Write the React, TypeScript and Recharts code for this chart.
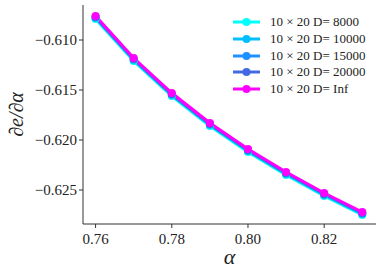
import { LineChart, Line, XAxis, YAxis } from 'recharts';

const ALPHA = [0.76, 0.77, 0.78, 0.79, 0.8, 0.81, 0.82, 0.83];
const D_8000 = [-0.6079, -0.6121, -0.6156, -0.6186, -0.6212, -0.6235, -0.6256, -0.6275];
const D_10000 = [-0.6078, -0.6120, -0.6155, -0.6185, -0.6211, -0.6234, -0.6255, -0.6274];
const D_15000 = [-0.6077, -0.6119, -0.6154, -0.6184, -0.6210, -0.6233, -0.6254, -0.6273];
const D_20000 = [-0.6077, -0.6119, -0.6154, -0.6184, -0.6210, -0.6233, -0.6254, -0.6273];
const D_INF = [-0.6076, -0.6118, -0.6153, -0.6183, -0.6209, -0.6232, -0.6253, -0.6272];
const X_TICKS = [0.76, 0.78, 0.8, 0.82];
const Y_TICKS = [-0.625, -0.62, -0.615, -0.61];

const SERIES = [
  { key: 'd8000', name: '10 × 20 D= 8000', color: '#00ffff', values: D_8000 },
  { key: 'd10000', name: '10 × 20 D= 10000', color: '#00bfff', values: D_10000 },
  { key: 'd15000', name: '10 × 20 D= 15000', color: '#1e90ff', values: D_15000 },
  { key: 'd20000', name: '10 × 20 D= 20000', color: '#4169e1', values: D_20000 },
  { key: 'dinf', name: '10 × 20 D= Inf', color: '#ff00ff', values: D_INF },
];

const data = ALPHA.map((a, i) => {
  const row: Record<string, number> = { alpha: a };
  SERIES.forEach((s) => {
    row[s.key] = s.values[i];
  });
  return row;
});

const FONT = 'Liberation Serif, DejaVu Serif, serif';
const AXIS = '#333';

const fmtMinus = (v: number, d: number) => {
  const s = Math.abs(v).toFixed(d);
  return v < 0 ? `\u2212${s}` : s;
};

const XTick = (props: any) => {
  const { x, y, payload } = props;
  return (
    <text x={x} y={y + 14} textAnchor="middle" fontSize={15} fill="#222" style={{ fontFamily: FONT }}>
      {Number(payload.value).toFixed(2)}
    </text>
  );
};

const YTick = (props: any) => {
  const { x, y, payload } = props;
  return (
    <text x={x} y={y} textAnchor="end" dominantBaseline="central" fontSize={15} fill="#222" style={{ fontFamily: FONT }}>
      {fmtMinus(payload.value, 3)}
    </text>
  );
};

const App = () => {
  return (
    <div style={{ position: 'absolute', left: 0, top: 0, background: '#fff', fontFamily: FONT }}>
      <div style={{ position: 'relative', width: 382, height: 272 }}>
        <LineChart width={382} height={272} data={data} margin={{ top: 5, right: 6, bottom: 0, left: 0 }}>
          <XAxis
            dataKey="alpha"
            type="number"
            domain={[0.7567, 0.8336]}
            ticks={X_TICKS}
            stroke={AXIS}
            tick={<XTick />}
            tickSize={4}
            height={48}
            allowDataOverflow
            label={(props: any) => {
              const vb = props.viewBox;
              return (
                <text x={vb.x + vb.width / 2} y={264} textAnchor="middle" fontSize={22} fontStyle="italic" style={{ fontFamily: FONT }} fill="#222">
                  α
                </text>
              );
            }}
          />
          <XAxis xAxisId="top" orientation="top" dataKey="alpha" type="number" domain={[0.7567, 0.8336]} height={0} tick={false} tickLine={false} stroke={AXIS} />
          <YAxis
            type="number"
            domain={[-0.6284, -0.6065]}
            ticks={Y_TICKS}
            stroke={AXIS}
            tick={<YTick />}
            tickSize={4}
            width={83}
            allowDataOverflow
            label={(props: any) => {
              const vb = props.viewBox;
              const cy = vb.y + vb.height / 2;
              return (
                <text x={16} y={cy} textAnchor="middle" dominantBaseline="central" fontSize={20} fontStyle="italic" style={{ fontFamily: FONT }} fill="#222" transform={`rotate(-90 16 ${cy})`}>
                  ∂e/∂α
                </text>
              );
            }}
          />
          <YAxis yAxisId="right" orientation="right" type="number" domain={[-0.6284, -0.6065]} width={0} tick={false} tickLine={false} stroke={AXIS} />
          {SERIES.map((s) => (
            <Line
              key={s.key}
              dataKey={s.key}
              name={s.name}
              stroke={s.color}
              strokeWidth={3}
              dot={{ r: 4, fill: s.color, stroke: s.color, strokeWidth: 0 }}
              isAnimationActive={false}
            />
          ))}
        </LineChart>
        <div style={{ position: 'absolute', left: 232, top: 14, fontSize: 13, color: '#222' }}>
          {SERIES.map((s) => (
            <div key={s.key} style={{ display: 'flex', alignItems: 'center', height: 16.7, whiteSpace: 'nowrap' }}>
              <svg width={30} height={10} style={{ marginRight: 8 }}>
                <line x1={1} y1={5} x2={28} y2={5} stroke={s.color} strokeWidth={3} />
                <circle cx={14.5} cy={5} r={4} fill={s.color} />
              </svg>
              <span>{s.name}</span>
            </div>
          ))}
        </div>
      </div>
    </div>
  );
};

export default App;
